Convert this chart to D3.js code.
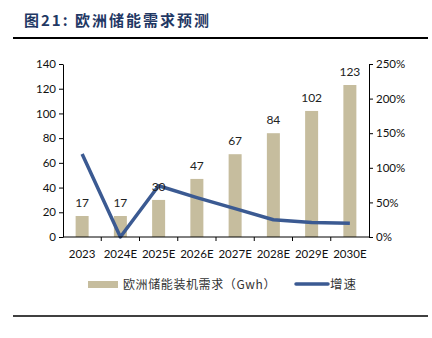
<!DOCTYPE html>
<html lang="zh">
<head>
<meta charset="UTF-8">
<title>欧洲储能需求预测</title>
<script src="https://cdn.jsdelivr.net/npm/d3@7/dist/d3.min.js"></script>
<style>
    body { margin: 0; background: #fff; }
    text { font-family: Lato, "Noto Sans CJK SC", sans-serif; }
</style>
</head>
<body>
<div id="main_container"></div>
<script>

    var years = ["2023", "2024E", "2025E", "2026E", "2027E", "2028E", "2029E", "2030E"];
    var demand = [17, 17, 30, 47, 67, 84, 102, 123];
    var growth = [1.20, 0.0, 0.74, 0.57, 0.41, 0.25, 0.21, 0.20];
    var leftTicks = [0, 20, 40, 60, 80, 100, 120, 140];
    var rightTicks = [0, 0.5, 1.0, 1.5, 2.0, 2.5];

    var svgWidth = 432;
    var svgHeight = 338;
    var margin = {left: 63, right: 63, top: 64, bottom: 101};

    var svg = d3.select("#main_container").append("svg")
            .attr("width", svgWidth)
            .attr("height", svgHeight);

    // title + rules
    svg.append("text")
        .attr("x", 24).attr("y", 26)
        .attr("fill", "#1f3864")
        .attr("font-size", 15)
        .attr("font-weight", "bold")
        .style("font-family", "'Noto Sans CJK SC', sans-serif")
        .style("letter-spacing", "2px")
        .text("图21: 欧洲储能需求预测");
    svg.append("line")
        .attr("x1", 13).attr("x2", 428).attr("y1", 38).attr("y2", 38)
        .attr("stroke", "#000").attr("stroke-width", 2);
    svg.append("line")
        .attr("x1", 13).attr("x2", 428).attr("y1", 316).attr("y2", 316)
        .attr("stroke", "#000").attr("stroke-width", 1.5);

    var x = d3.scaleBand()
            .domain(years)
            .range([margin.left, svgWidth - margin.right]);
    var yL = d3.scaleLinear().domain([0, 140]).range([svgHeight - margin.bottom, margin.top]);
    var yR = d3.scaleLinear().domain([0, 2.5]).range([svgHeight - margin.bottom, margin.top]);

    var g = svg.append("g");

    // bars
    g.selectAll(".bar")
        .data(demand)
        .enter().append("rect")
        .attr("class", "bar")
        .attr("x", function(d, i){ return x(years[i]) + x.bandwidth()/2 - 6.5; })
        .attr("width", 13)
        .attr("y", function(d){ return yL(d); })
        .attr("height", function(d){ return yL(0) - yL(d); })
        .attr("fill", "#c6bd9e");

    // line
    var line = d3.line()
            .x(function(d, i){ return x(years[i]) + x.bandwidth()/2; })
            .y(function(d){ return yR(d); });
    g.append("path")
        .datum(growth)
        .attr("d", line)
        .attr("fill", "none")
        .attr("stroke", "#3b5a92")
        .attr("stroke-width", 3.5)
        .attr("stroke-linejoin", "round");

    // data labels
    g.selectAll(".lbl")
        .data(demand)
        .enter().append("text")
        .attr("class", "lbl")
        .attr("x", function(d, i){ return x(years[i]) + x.bandwidth()/2; })
        .attr("y", function(d){ return yL(d) - 9; })
        .attr("text-anchor", "middle")
        .attr("font-size", 12)
        .attr("fill", "#222")
        .text(function(d){ return d; });

    // axes
    var axisL = d3.axisLeft(yL).tickValues(leftTicks).tickSize(4).tickSizeOuter(0);
    var axisR = d3.axisRight(yR).tickValues(rightTicks).tickSize(4).tickSizeOuter(0)
            .tickFormat(d3.format(".0%"));

    var gL = svg.append("g").attr("transform", "translate(" + margin.left + ",0)").call(axisL);
    var gR = svg.append("g").attr("transform", "translate(" + (svgWidth - margin.right) + ",0)").call(axisR);
    [gL, gR].forEach(function(a){
        a.select(".domain").attr("stroke", "#000");
        a.selectAll(".tick line").attr("stroke", "#000");
        a.selectAll(".tick text").attr("font-size", 11.5).attr("fill", "#111")
            .style("font-family", "Lato, sans-serif");
    });
    gL.selectAll(".tick text").attr("x", -7);
    gR.selectAll(".tick text").attr("x", 7);

    // x axis
    var base = yL(0);
    svg.append("line")
        .attr("x1", margin.left).attr("x2", svgWidth - margin.right)
        .attr("y1", base).attr("y2", base)
        .attr("stroke", "#000");
    svg.selectAll(".xtick")
        .data(years.slice(1))
        .enter().append("line")
        .attr("x1", function(d){ return x(d); })
        .attr("x2", function(d){ return x(d); })
        .attr("y1", base).attr("y2", base + 4)
        .attr("stroke", "#000");
    svg.selectAll(".xlbl")
        .data(years)
        .enter().append("text")
        .attr("x", function(d){ return x(d) + x.bandwidth()/2; })
        .attr("y", base + 21)
        .attr("text-anchor", "middle")
        .attr("font-size", 11.5)
        .attr("fill", "#111")
        .text(function(d){ return d; });

    // legend
    svg.append("rect")
        .attr("x", 88).attr("y", 281).attr("width", 30).attr("height", 7)
        .attr("fill", "#c6bd9e");
    svg.append("text")
        .attr("x", 123).attr("y", 289)
        .attr("font-size", 12)
        .attr("fill", "#333")
        .style("font-family", "'Noto Sans CJK SC', sans-serif")
        .style("letter-spacing", "0.6px")
        .text("欧洲储能装机需求（Gwh）");
    svg.append("line")
        .attr("x1", 296).attr("x2", 328).attr("y1", 284).attr("y2", 284)
        .attr("stroke", "#3b5a92").attr("stroke-width", 3.5)
        .attr("stroke-linecap", "round");
    svg.append("text")
        .attr("x", 330).attr("y", 289)
        .attr("font-size", 12.5)
        .attr("fill", "#333")
        .style("font-family", "'Noto Sans CJK SC', sans-serif")
        .style("letter-spacing", "1px")
        .text("增速");

</script>
</body>
</html>
